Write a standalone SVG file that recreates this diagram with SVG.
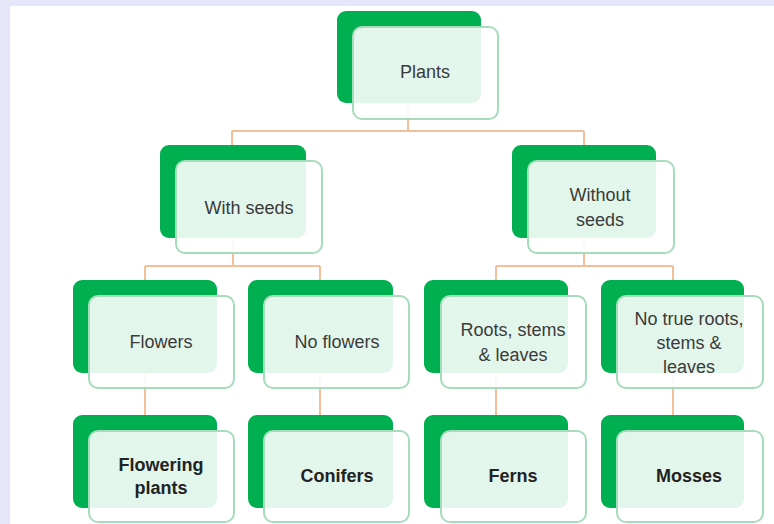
<svg xmlns="http://www.w3.org/2000/svg" width="774" height="524" viewBox="0 0 774 524">
<style>
.back{fill:#00b050;}
.front{fill:#ffffff;fill-opacity:0.89;stroke:#a6dcbb;stroke-width:2;}
.t{font-family:"Liberation Sans",Arial,sans-serif;font-size:18px;fill:#3a3a3a;text-anchor:middle;}
.b{font-weight:bold;fill:#222;}
.c{fill:none;stroke:#f2bf9a;stroke-width:2;}
</style>
<rect x="0" y="0" width="774" height="524" fill="#e6e6fb"/>
<rect x="10" y="6" width="764" height="518" fill="#ffffff"/>
<g id="connectors">
<path class="c" d="M408,103 V131 M232,131 H584 M232,131 V145 M584,131 V145"/>
<path class="c" d="M233,238 V266 M145,266 H320 M145,266 V280 M320,266 V280"/>
<path class="c" d="M584,238 V266 M496,266 H673 M496,266 V280 M673,266 V280"/>
<path class="c" d="M145,373 V415 M320,373 V415 M496,373 V415 M673,373 V415"/>
</g>
<g id="n-plants">
<rect class="back" x="337" y="11" width="144" height="92" rx="9"/>
<rect class="front" x="353" y="27" width="145" height="92" rx="9"/>
<text class="t" x="425" y="78">Plants</text>
</g>
<g id="n-withseeds">
<rect class="back" x="160" y="145" width="146" height="93" rx="9"/>
<rect class="front" x="176" y="161" width="146" height="92" rx="9"/>
<text class="t" x="249" y="214">With seeds</text>
</g>
<g id="n-withoutseeds">
<rect class="back" x="512" y="145" width="144" height="93" rx="9"/>
<rect class="front" x="528" y="161" width="146" height="92" rx="9"/>
<text class="t" x="600" y="201">Without</text>
<text class="t" x="600" y="226">seeds</text>
</g>
<g id="n-flowers">
<rect class="back" x="73" y="280" width="144" height="93" rx="9"/>
<rect class="front" x="89" y="296" width="145" height="92" rx="9"/>
<text class="t" x="161" y="348">Flowers</text>
</g>
<g id="n-noflowers">
<rect class="back" x="248" y="280" width="145" height="93" rx="9"/>
<rect class="front" x="264" y="296" width="145" height="92" rx="9"/>
<text class="t" x="337" y="348">No flowers</text>
</g>
<g id="n-roots">
<rect class="back" x="424" y="280" width="144" height="93" rx="9"/>
<rect class="front" x="441" y="296" width="145" height="92" rx="9"/>
<text class="t" x="513" y="336">Roots, stems</text>
<text class="t" x="513" y="361">&amp; leaves</text>
</g>
<g id="n-noroots">
<rect class="back" x="601" y="280" width="143" height="93" rx="9"/>
<rect class="front" x="617" y="296" width="146" height="92" rx="9"/>
<text class="t" x="689" y="325">No true roots,</text>
<text class="t" x="689" y="349">stems &amp;</text>
<text class="t" x="689" y="373">leaves</text>
</g>
<g id="n-floweringplants">
<rect class="back" x="73" y="415" width="144" height="93" rx="9"/>
<rect class="front" x="89" y="431" width="145" height="91" rx="9"/>
<text class="t b" x="161" y="471">Flowering</text>
<text class="t b" x="161" y="494">plants</text>
</g>
<g id="n-conifers">
<rect class="back" x="248" y="415" width="145" height="93" rx="9"/>
<rect class="front" x="264" y="431" width="145" height="91" rx="9"/>
<text class="t b" x="337" y="482">Conifers</text>
</g>
<g id="n-ferns">
<rect class="back" x="424" y="415" width="144" height="93" rx="9"/>
<rect class="front" x="441" y="431" width="145" height="91" rx="9"/>
<text class="t b" x="513" y="482">Ferns</text>
</g>
<g id="n-mosses">
<rect class="back" x="601" y="415" width="143" height="93" rx="9"/>
<rect class="front" x="617" y="431" width="146" height="91" rx="9"/>
<text class="t b" x="689" y="482">Mosses</text>
</g>
</svg>
